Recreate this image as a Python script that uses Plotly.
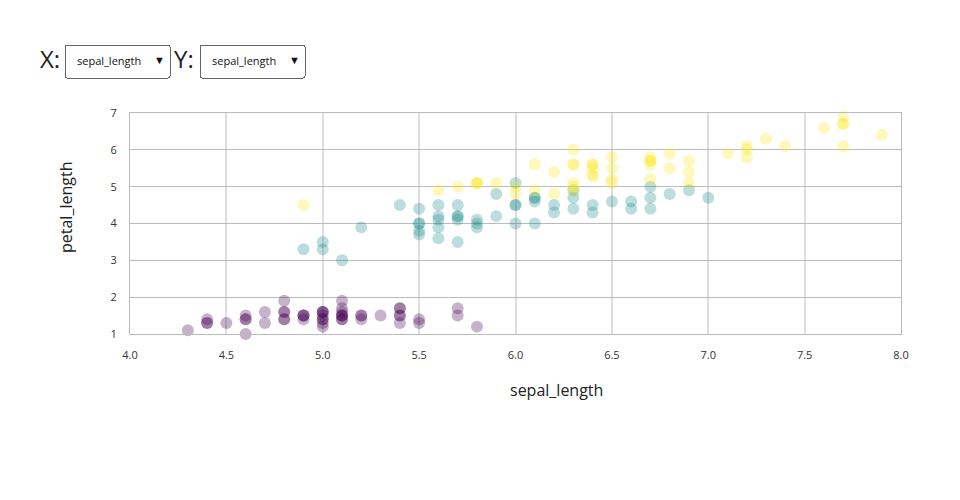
import plotly.graph_objects as go

# iris: sepal_length / petal_length per species
setosa_sepal_length = [5.1, 4.9, 4.7, 4.6, 5.0, 5.4, 4.6, 5.0, 4.4, 4.9, 5.4, 4.8, 4.8, 4.3, 5.8, 5.7, 5.4,
                       5.1, 5.7, 5.1, 5.4, 5.1, 4.6, 5.1, 4.8, 5.0, 5.0, 5.2, 5.2, 4.7, 4.8, 5.4, 5.2, 5.5,
                       4.9, 5.0, 5.5, 4.9, 4.4, 5.1, 5.0, 4.5, 4.4, 5.0, 5.1, 4.8, 5.1, 4.6, 5.3, 5.0]
setosa_petal_length = [1.4, 1.4, 1.3, 1.5, 1.4, 1.7, 1.4, 1.5, 1.4, 1.5, 1.5, 1.6, 1.4, 1.1, 1.2, 1.5, 1.3,
                       1.4, 1.7, 1.5, 1.7, 1.5, 1.0, 1.7, 1.9, 1.6, 1.6, 1.5, 1.4, 1.6, 1.6, 1.5, 1.5, 1.4,
                       1.5, 1.2, 1.3, 1.5, 1.3, 1.5, 1.3, 1.3, 1.3, 1.6, 1.9, 1.4, 1.6, 1.4, 1.5, 1.4]
versicolor_sepal_length = [7.0, 6.4, 6.9, 5.5, 6.5, 5.7, 6.3, 4.9, 6.6, 5.2, 5.0, 5.9, 6.0, 6.1, 5.6, 6.7, 5.6,
                           5.8, 6.2, 5.6, 5.9, 6.1, 6.3, 6.1, 6.4, 6.6, 6.8, 6.7, 6.0, 5.7, 5.5, 5.5, 5.8, 6.0,
                           5.4, 6.0, 6.7, 6.3, 5.6, 5.5, 5.5, 6.1, 5.8, 5.0, 5.6, 5.7, 5.7, 6.2, 5.1, 5.7]
versicolor_petal_length = [4.7, 4.5, 4.9, 4.0, 4.6, 4.5, 4.7, 3.3, 4.6, 3.9, 3.5, 4.2, 4.0, 4.7, 3.6, 4.4, 4.5,
                           4.1, 4.5, 3.9, 4.8, 4.0, 4.9, 4.7, 4.3, 4.4, 4.8, 5.0, 4.5, 3.5, 3.8, 3.7, 3.9, 5.1,
                           4.5, 4.5, 4.7, 4.4, 4.1, 4.0, 4.4, 4.6, 4.0, 3.3, 4.2, 4.2, 4.2, 4.3, 3.0, 4.1]
virginica_sepal_length = [6.3, 5.8, 7.1, 6.3, 6.5, 7.6, 4.9, 7.3, 6.7, 7.2, 6.5, 6.4, 6.8, 5.7, 5.8, 6.4, 6.5,
                          7.7, 7.7, 6.0, 6.9, 5.6, 7.7, 6.3, 6.7, 7.2, 6.2, 6.1, 6.4, 7.2, 7.4, 7.9, 6.4, 6.3,
                          6.1, 7.7, 6.3, 6.4, 6.0, 6.9, 6.7, 6.9, 5.8, 6.8, 6.7, 6.7, 6.3, 6.5, 6.2, 5.9]
virginica_petal_length = [6.0, 5.1, 5.9, 5.6, 5.8, 6.6, 4.5, 6.3, 5.8, 6.1, 5.1, 5.3, 5.5, 5.0, 5.1, 5.3, 5.5,
                          6.7, 6.9, 5.0, 5.7, 4.9, 6.7, 4.9, 5.7, 6.0, 4.8, 4.9, 5.6, 5.8, 6.1, 6.4, 5.6, 5.1,
                          5.6, 6.1, 5.6, 5.5, 4.8, 5.4, 5.6, 5.1, 5.1, 5.9, 5.7, 5.2, 5.0, 5.2, 5.4, 5.1]

species = ["setosa", "versicolor", "virginica"]
species_colors = ["#440154", "#21908d", "#fde725"]
columns = ["sepal_length", "sepal_width", "petal_length", "petal_width"]
x_ticks = [4.0, 4.5, 5.0, 5.5, 6.0, 6.5, 7.0, 7.5, 8.0]
y_ticks = [1, 2, 3, 4, 5, 6, 7]

# target positions are page pixels; the page body adds an 8px margin
OFF = 8
W, H = 960, 500
L, R, T, B = 130 - OFF, 901 - OFF, 113 - OFF, 334 - OFF


def px(x):
    return (x - OFF - L) / (R - L)


def py(y):
    return (B - (y - OFF)) / (B - T)


fig = go.Figure()
series = [
    (setosa_sepal_length, setosa_petal_length),
    (versicolor_sepal_length, versicolor_petal_length),
    (virginica_sepal_length, virginica_petal_length),
]
for name, color, (xs, ys) in zip(species, species_colors, series):
    fig.add_trace(
        go.Scatter(
            x=xs,
            y=ys,
            name=name,
            mode="markers",
            marker=dict(size=12, color=color, opacity=0.3, line=dict(width=0)),
            cliponaxis=False,
        )
    )


def label(text, x, y, size, angle=0):
    return dict(text=text, x=px(x), y=py(y), xref="paper", yref="paper", xanchor="center",
                yanchor="middle", showarrow=False, textangle=angle, font=dict(size=size, color="#222"))


def dropdown(x, y):
    return dict(
        type="dropdown",
        buttons=[dict(label=c, method="skip", args=[None]) for c in columns],
        active=0,
        x=px(x),
        y=py(y),
        xanchor="left",
        yanchor="middle",
        pad=dict(l=0, r=0, t=0, b=0),
        bgcolor="white",
        bordercolor="#666",
        borderwidth=1,
        font=dict(size=11, color="#111"),
        showactive=True,
    )


fig.update_layout(
    width=W,
    height=H,
    margin=dict(l=L, r=W - R, t=T, b=H - B),
    paper_bgcolor="white",
    plot_bgcolor="white",
    showlegend=False,
    font=dict(family="Open Sans, sans-serif", color="#333"),
    xaxis=dict(
        range=[4, 8],
        tickvals=x_ticks,
        tickformat=".1f",
        showgrid=True,
        gridcolor="#ddd",
        gridwidth=2,
        showline=True,
        linecolor="#bbb",
        mirror=True,
        zeroline=False,
        ticks="",
        ticklabelstandoff=11,
        tickfont=dict(size=11, color="#333"),
    ),
    yaxis=dict(
        range=[1, 7],
        tickvals=y_ticks,
        showgrid=True,
        gridcolor="#bbb",
        gridwidth=1,
        showline=True,
        linecolor="#bbb",
        mirror=True,
        zeroline=False,
        ticks="",
        ticklabelstandoff=10,
        tickfont=dict(size=11, color="#333"),
    ),
    annotations=[
        label("sepal_length", 556, 390, 16),
        label("petal_length", 66, 208, 16, -90),
        label("X:", 50, 59, 24),
        label("Y:", 184, 59, 24),
    ],
    updatemenus=[dropdown(64, 61), dropdown(199, 61)],
)

fig.write_html("out.html")
